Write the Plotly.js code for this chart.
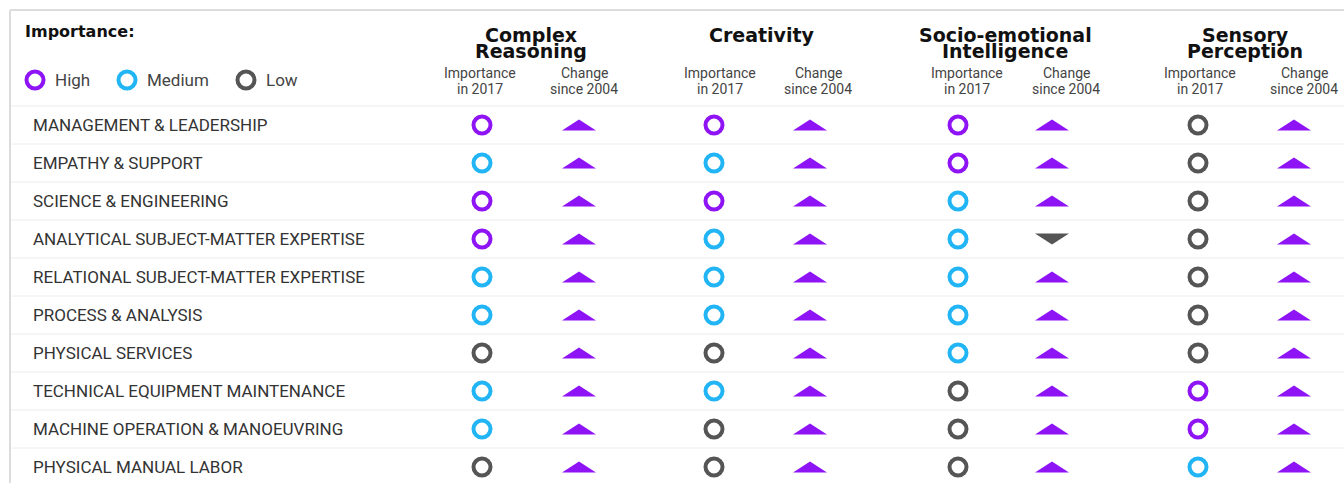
<!DOCTYPE html>
<html><head><meta charset="utf-8">
<script src="https://cdn.plot.ly/plotly-3.0.1.min.js"></script>
<style>html,body{margin:0;padding:0;background:#fff;}#chart{width:1344px;height:483px;}</style>
</head><body><div id="chart"></div>
<script>
// ---------- data ----------
const skills = [
  'MANAGEMENT & LEADERSHIP',
  'EMPATHY & SUPPORT',
  'SCIENCE & ENGINEERING',
  'ANALYTICAL SUBJECT-MATTER EXPERTISE',
  'RELATIONAL SUBJECT-MATTER EXPERTISE',
  'PROCESS & ANALYSIS',
  'PHYSICAL SERVICES',
  'TECHNICAL EQUIPMENT MAINTENANCE',
  'MACHINE OPERATION & MANOEUVRING',
  'PHYSICAL MANUAL LABOR'
];
const groupNames = ['Complex Reasoning', 'Creativity', 'Socio-emotional Intelligence', 'Sensory Perception'];
const groupTitleLines = [['Complex', 'Reasoning'], ['Creativity'], ['Socio-emotional', 'Intelligence'], ['Sensory', 'Perception']];
const subHeaderImportance = ['Importance', 'in 2017'];
const subHeaderChange = ['Change', 'since 2004'];
const legendTitle = 'Importance:';
const levels = ['High', 'Medium', 'Low'];

const importanceComplexReasoning = ['High','Medium','High','High','Medium','Medium','Low','Medium','Medium','Low'];
const importanceCreativity       = ['High','Medium','High','Medium','Medium','Medium','Low','Medium','Low','Low'];
const importanceSocioEmotional   = ['High','High','Medium','Medium','Medium','Medium','Medium','Low','Low','Low'];
const importanceSensory          = ['Low','Low','Low','Low','Low','Low','Low','High','High','Medium'];

const changeComplexReasoning = ['up','up','up','up','up','up','up','up','up','up'];
const changeCreativity       = ['up','up','up','up','up','up','up','up','up','up'];
const changeSocioEmotional   = ['up','up','up','down','up','up','up','up','up','up'];
const changeSensory          = ['up','up','up','up','up','up','up','up','up','up'];

const importanceByGroup = [importanceComplexReasoning, importanceCreativity, importanceSocioEmotional, importanceSensory];
const changeByGroup = [changeComplexReasoning, changeCreativity, changeSocioEmotional, changeSensory];

// ---------- styles / layout constants ----------
const levelColors = {High: '#8F14F5', Medium: '#22B5F5', Low: '#555555'};
const changeColors = {up: '#8F14F5', down: '#555555'};
const W = 1344, H = 483;
const circleX = [482, 714, 958, 1198];
const triX = [579, 810, 1052, 1294];
const impHeaderX = [480, 720, 967, 1200];
const chgHeaderX = [584, 818, 1066, 1304];
const titleX = [531, 762, 1005, 1245];
const rowPx0 = 125, rowStep = 38;        // pixel centre of first row, row pitch
const yTop = -rowPx0 / rowStep, yBottom = (H - rowPx0) / rowStep;
const pyToPaper = p => 1 - p / H;
const pyToRow = p => (p - rowPx0) / rowStep;
const FONT = 'Roboto, "Liberation Sans", Arial, sans-serif';
const HEAVY = '"DejaVu Sans", Roboto, sans-serif';

const traces = [];
// importance circles
importanceByGroup.forEach((imp, g) => {
  levels.forEach(lv => {
    const ys = [];
    imp.forEach((v, i) => { if (v === lv) ys.push(i); });
    if (!ys.length) return;
    traces.push({
      type: 'scatter', mode: 'markers',
      x: ys.map(() => circleX[g]), y: ys,
      marker: {symbol: 'circle-open', size: 17, color: levelColors[lv], line: {width: 4, color: levelColors[lv]}},
      hoverinfo: 'skip', showlegend: false
    });
  });
});
// change triangles (flat, wide) as filled polygons around each (column, row) position
const triHalfW = 17, triHalfH = 5.5 / rowStep;
['up', 'down'].forEach(dir => {
  const xs = [], ys = [];
  changeByGroup.forEach((chg, g) => {
    chg.forEach((v, i) => {
      if (v !== dir) return;
      const cx = triX[g];
      const s = dir === 'up' ? 1 : -1;
      xs.push(cx - triHalfW, cx + triHalfW, cx, cx - triHalfW, null);
      ys.push(i + s * triHalfH, i + s * triHalfH, i - s * triHalfH, i + s * triHalfH, null);
    });
  });
  if (!xs.length) return;
  traces.push({
    type: 'scatter', mode: 'lines', x: xs, y: ys, fill: 'toself',
    fillcolor: changeColors[dir], line: {width: 0, color: changeColors[dir]},
    hoverinfo: 'skip', showlegend: false
  });
});
// legend circles
const legendX = [35, 127, 246], legendLabelX = [53, 145, 264];
levels.forEach((lv, k) => {
  traces.push({
    type: 'scatter', mode: 'markers', x: [legendX[k]], y: [pyToRow(80)],
    marker: {symbol: 'circle-open', size: 17, color: levelColors[lv], line: {width: 4, color: levelColors[lv]}},
    hoverinfo: 'skip', showlegend: false
  });
});

const annotations = [];
// row labels
skills.forEach((s, i) => annotations.push({
  x: 31, y: i, xref: 'x', yref: 'y', text: s, showarrow: false, xanchor: 'left', yanchor: 'middle',
  font: {family: FONT, size: 17, color: '#333'}
}));
// legend title + labels
annotations.push({x: 23, y: pyToPaper(32), xref: 'x', yref: 'paper', text: legendTitle, showarrow: false,
  xanchor: 'left', yanchor: 'middle', font: {family: HEAVY, size: 16, color: '#111', weight: 'bold'}});
levels.forEach((lv, k) => annotations.push({
  x: legendLabelX[k], y: pyToPaper(80), xref: 'x', yref: 'paper', text: lv, showarrow: false,
  xanchor: 'left', yanchor: 'middle', font: {family: FONT, size: 17, color: '#444'}
}));
// group titles
groupTitleLines.forEach((lines, g) => lines.forEach((t, j) => annotations.push({
  x: titleX[g], y: pyToPaper(35 + 16 * j), xref: 'x', yref: 'paper', text: t, showarrow: false,
  xanchor: 'center', yanchor: 'middle', font: {family: HEAVY, size: 19, color: '#111', weight: 'bold'}
})));
// sub headers
groupNames.forEach((name, g) => {
  subHeaderImportance.forEach((t, j) => annotations.push({
    x: impHeaderX[g], y: pyToPaper(73 + 16 * j), xref: 'x', yref: 'paper', text: t, showarrow: false,
    xanchor: 'center', yanchor: 'middle', font: {family: FONT, size: 14, color: '#444'}
  }));
  subHeaderChange.forEach((t, j) => annotations.push({
    x: chgHeaderX[g], y: pyToPaper(73 + 16 * j), xref: 'x', yref: 'paper', text: t, showarrow: false,
    xanchor: 'center', yanchor: 'middle', font: {family: FONT, size: 14, color: '#444'}
  }));
});

const shapes = [];
// row separators
for (let i = 0; i < skills.length; i++) {
  shapes.push({type: 'line', xref: 'x', yref: 'y', x0: 10, x1: W, y0: i - 0.5, y1: i - 0.5,
    line: {color: '#ececec', width: 1}, layer: 'below'});
}
// frame
shapes.push({type: 'line', xref: 'x', yref: 'paper', x0: 10, x1: W, y0: pyToPaper(10), y1: pyToPaper(10),
  line: {color: '#dcdcdc', width: 2}});
shapes.push({type: 'line', xref: 'x', yref: 'paper', x0: 10, x1: 10, y0: pyToPaper(10), y1: 0,
  line: {color: '#dcdcdc', width: 2}});

const layout = {
  width: W, height: H,
  margin: {l: 0, r: 0, t: 0, b: 0},
  paper_bgcolor: '#fff', plot_bgcolor: '#fff',
  xaxis: {range: [0, W], visible: false, fixedrange: true},
  yaxis: {range: [yBottom, yTop], visible: false, fixedrange: true},
  annotations, shapes, showlegend: false
};
Plotly.newPlot('chart', traces, layout, {staticPlot: true, displayModeBar: false});
</script></body></html>
